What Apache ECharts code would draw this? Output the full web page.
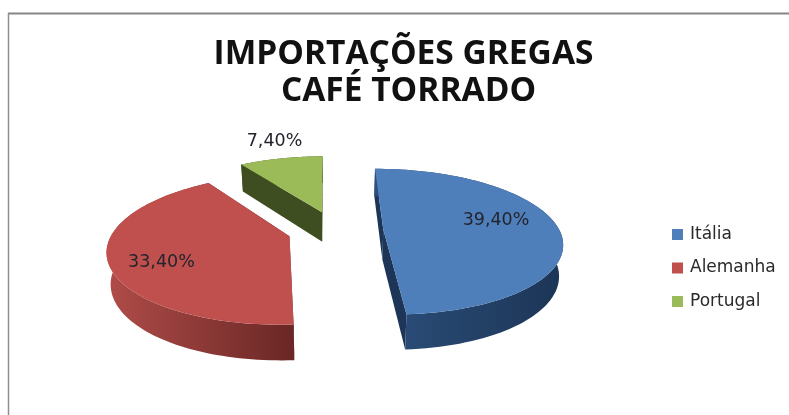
<!DOCTYPE html>
<html>
<head>
<meta charset="utf-8">
<style>html,body{margin:0;padding:0;background:#fff}#main{width:789px;height:415px}</style>
<script src="https://cdn.jsdelivr.net/npm/echarts@6/dist/echarts.min.js"></script>
</head>
<body>
<div id="main"></div>
<script>
var categories = ['Itália', 'Alemanha', 'Portugal'];
var values = [39.4, 33.4, 7.4];
var titleLines = ['IMPORTAÇÕES GREGAS', 'CAFÉ TORRADO'];

var topColors = ['#4f7fba', '#bf504d', '#9bbb59'];
var wallColors = [
  ['#2c4f7b', '#1c3556'],
  ['#b04c49', '#692725'],
  ['#3f4e20', '#3f4e20']
];
var edgeColors = ['#1d3557', '#692725', '#3f4e20'];

// fake 3d: pie plane seen in perspective
var cx = 335.5, cy = 230, R = 176, H = 71, k = 0.17, depth = 30.5, shrink = 0.982, explode = 0.272;
var startDeg = -0.5;
// radial position of the value label for each slice, and small nudges
var labelR = [0.64, 0.78, 1.32];
var labelNudge = [[1, -7], [12, 7], [4.5, -3]];

var total = values.reduce(function (a, b) { return a + b; }, 0);

function project(u, v, lower) {
  var s = 1 / (1 + k * v);
  if (!lower) return [cx + R * u * s, cy - H * v * s];
  return [cx + R * u * s * shrink, cy - H * v * s * shrink + depth * s];
}

function sliceAngles(idx) {
  var a = startDeg;
  for (var i = 0; i < idx; i++) a += values[i] / total * 360;
  return [a, a + values[idx] / total * 360];
}

function renderSlice(params, api) {
  var idx = api.value(0);
  var ang = sliceAngles(idx);
  var mid = (ang[0] + ang[1]) / 2 * Math.PI / 180;
  var ou = explode * Math.sin(mid), ov = explode * Math.cos(mid);
  var arcTop = [], arcLow = [];
  var steps = 90;
  for (var i = 0; i <= steps; i++) {
    var t = (ang[0] + (ang[1] - ang[0]) * i / steps) * Math.PI / 180;
    var u = ou + Math.sin(t), v = ov + Math.cos(t);
    arcTop.push(project(u, v, false));
    arcLow.push(project(u, v, true));
  }
  var apexTop = project(ou, ov, false), apexLow = project(ou, ov, true);
  var wallFill = new echarts.graphic.LinearGradient(0, 0, 1, 0, [
    { offset: 0, color: wallColors[idx][0] },
    { offset: 1, color: wallColors[idx][1] }
  ]);
  var kids = [];
  function poly(pts, fill) {
    kids.push({ type: 'polygon', shape: { points: pts }, style: { fill: fill } });
  }
  poly([apexTop, arcTop[0], arcLow[0], apexLow], edgeColors[idx]);
  poly([apexTop, arcTop[steps], arcLow[steps], apexLow], edgeColors[idx]);
  poly(arcTop.concat(arcLow.slice().reverse()), wallFill);
  poly([apexTop].concat(arcTop), topColors[idx]);
  var lp = project(ou + labelR[idx] * Math.sin(mid), ov + labelR[idx] * Math.cos(mid), false);
  kids.push({
    type: 'text',
    style: {
      text: values[idx].toFixed(2).replace('.', ',') + '%',
      x: lp[0] + labelNudge[idx][0], y: lp[1] + labelNudge[idx][1],
      fill: '#24242e', font: '17.5px "DejaVu Sans"',
      align: 'center', verticalAlign: 'middle'
    }
  });
  return { type: 'group', children: kids };
}

var myChart = echarts.init(document.getElementById('main'));

var zOrder = [4, 3, 2];
var seriesList = categories.map(function (name, i) {
  return {
    name: name,
    type: 'custom',
    coordinateSystem: 'none',
    silent: true,
    z: zOrder[i],
    itemStyle: { color: topColors[i] },
    renderItem: renderSlice,
    data: [[i]]
  };
});

var option = {
  animation: false,
  backgroundColor: '#fff',
  title: [
    { text: titleLines[0], left: 398.5, top: 32, textAlign: 'center',
      textStyle: { color: '#111', fontFamily: 'Open Sans', fontWeight: 'bold', fontSize: 33.5 } },
    { text: titleLines[1], left: 403.5, top: 69, textAlign: 'center',
      textStyle: { color: '#111', fontFamily: 'Open Sans', fontWeight: 'bold', fontSize: 33.5 } }
  ],
  legend: {
    orient: 'vertical',
    left: 667,
    top: 221,
    icon: 'rect',
    itemWidth: 11,
    itemHeight: 11,
    itemGap: 16.5,
    data: categories,
    textStyle: { color: '#2a2a2a', fontFamily: 'DejaVu Sans', fontSize: 17, padding: [0, 0, 0, 2] }
  },
  graphic: [
    { type: 'line', shape: { x1: 8, y1: 13.5, x2: 789, y2: 13.5 }, style: { stroke: '#858585', lineWidth: 2 } },
    { type: 'line', shape: { x1: 8.5, y1: 13, x2: 8.5, y2: 415 }, style: { stroke: '#8f8f8f', lineWidth: 1.5 } }
  ],
  series: seriesList
};

myChart.setOption(option, true);
</script>
</body>
</html>
